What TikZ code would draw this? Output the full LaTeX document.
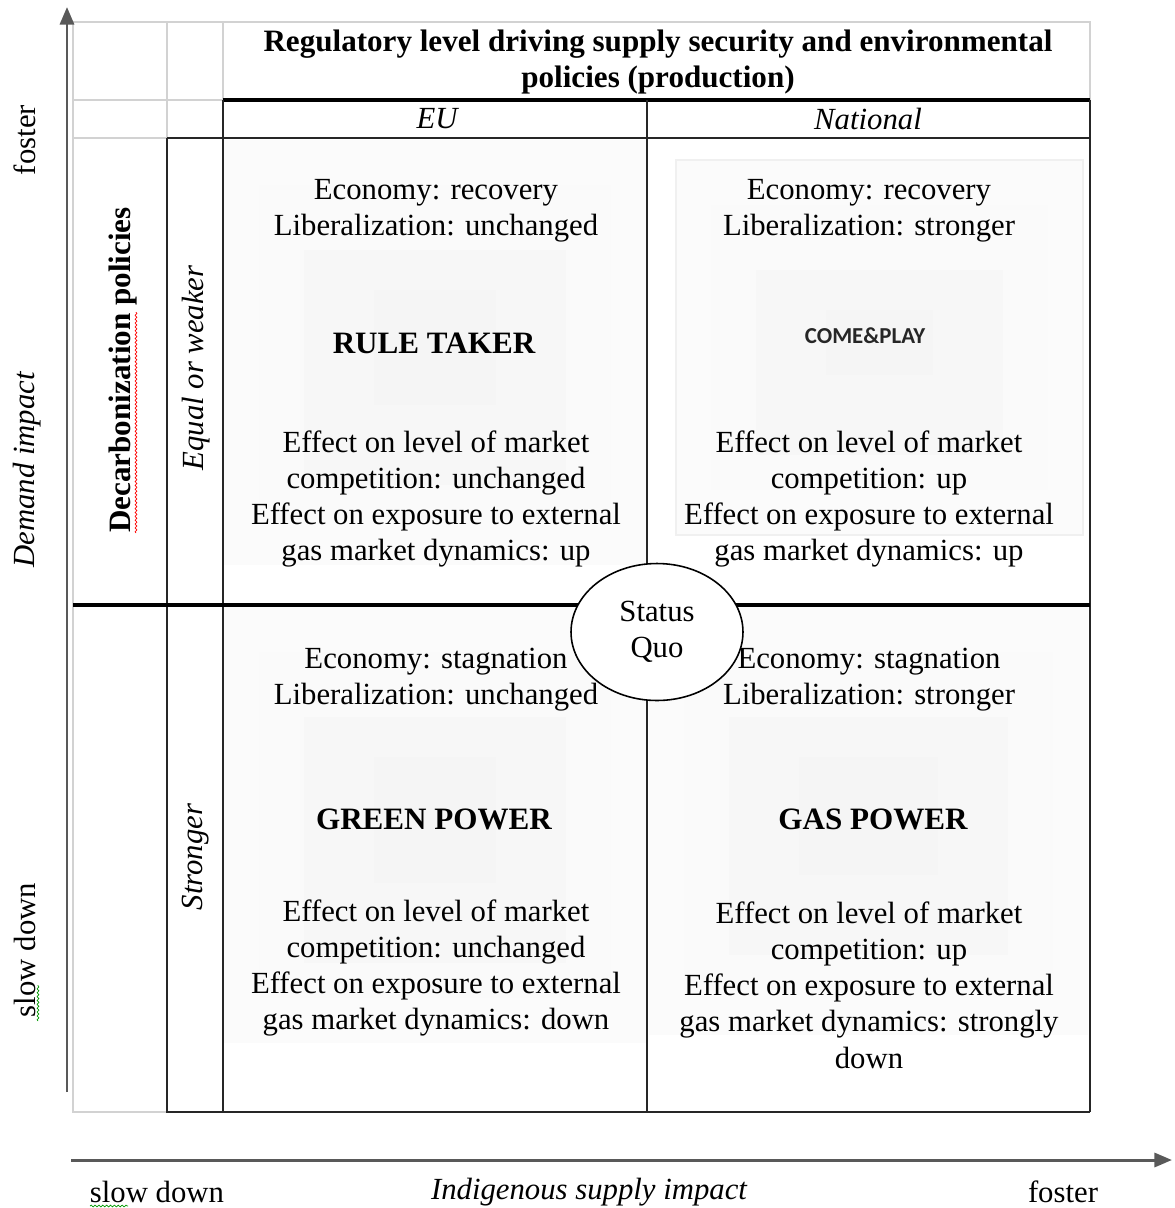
\documentclass[tikz,border=0pt]{standalone}
\usepackage{fontspec}
\setmainfont{Liberation Serif}
\newfontfamily\calibrifont{Carlito}
\usetikzlibrary{arrows.meta,shapes.geometric,decorations.pathmorphing}
\tikzset{cell/.style={align=center,font=\fontsize{17.5}{20.6}\selectfont},
  heading/.style={cell,font=\fontsize{17.7}{20.6}\selectfont\bfseries},
  thinrule/.style={draw=gray!35,line width=0.9pt},
  gridrule/.style={draw=black!85,line width=1.1pt},
  heavyrule/.style={draw=black,line width=1.8pt},
  axis/.style={draw=black!65,line width=1.7pt,-{Triangle[length=10pt,width=8pt]}},
  squiggle/.style={decorate,decoration={snake,amplitude=0.5pt,segment length=2.2pt},line width=0.4pt}}

\begin{document}
\begin{tikzpicture}[x=0.02cm,y=-0.02cm]
\useasboundingbox (0,0) rectangle (1175,1208);

% Soft grey glow behind the four scenarios
\foreach \xa/\ya/\xb/\yb in {224/140/646/565, 676/160/1083/535, 224/607/646/1043, 649/607/1088/1035} {
  \fill[gray!3] (\xa,\ya) rectangle (\xb,\yb);
  \fill[gray!4] (\xa+35,\ya+45) rectangle (\xb-35,\yb-45);
  \fill[gray!6] (\xa+80,\ya+110) rectangle (\xb-80,\yb-80);
  \fill[gray!8] (\xa+150,\ya+150) rectangle (\xb-150,\yb-160);
}
\draw[gray!12,line width=0.6pt] (676,160) rectangle (1083,535);

% Table frame, light part
\draw[thinrule] (73,100) -- (73,22) -- (1090,22) -- (1090,100);
\draw[thinrule] (73,100) -- (73,1112) -- (167,1112);
\draw[thinrule] (73,100) -- (223,100);
\draw[thinrule] (73,138) -- (167,138);
\draw[thinrule] (167,22) -- (167,138);
\draw[thinrule] (223,22) -- (223,100);

% Table grid, black part
\draw[heavyrule] (223,100) -- (1090,100);
\draw[gridrule] (167,138) -- (1090,138);
\draw[gridrule] (223,100) -- (223,1112);
\draw[gridrule] (647,100) -- (647,1112);
\draw[gridrule] (1090,100) -- (1090,1112);
\draw[gridrule] (167,138) -- (167,1112) -- (1090,1112);
\draw[heavyrule] (73,605) -- (1090,605);

% Axes
\coordinate (yfrom) at (67,1092);
\coordinate (yto) at (67,7);
\coordinate (xfrom) at (71,1160);
\coordinate (xto) at (1172,1160);
\draw[axis] (yfrom) -- (yto);
\draw[axis] (xfrom) -- (xto);

% Headings
\node[heading] (regulatory) at (658,62) {Regulatory level driving supply security and environmental\\policies (production)};
\node[cell,font=\fontsize{17.5}{20.6}\selectfont\itshape] (eu) at (437,119) {EU};
\node[cell,font=\fontsize{17.5}{20.6}\selectfont\itshape] (national) at (868,119) {National};
\node[heading,rotate=90] (decarb) at (123,370) {Decarbonization policies};
\node[cell,rotate=90,font=\fontsize{17.5}{20.6}\selectfont\itshape] (weaker) at (196,368) {Equal or weaker};
\node[cell,rotate=90,font=\fontsize{17.5}{20.6}\selectfont\itshape] (stronger) at (196,857) {Stronger};
\draw[red,squiggle] (136,533) -- (136,312);

% Rule taker
\node[cell] (rt-econ) at (436,211) {Economy: recovery\\Liberalization: unchanged};
\node[heading] (rt-name) at (434,343) {RULE TAKER};
\node[cell] (rt-effect) at (436,499) {Effect on level of market\\competition: unchanged\\Effect on exposure to external\\gas market dynamics: up};

% Come and play
\node[cell] (cp-econ) at (869,211) {Economy: recovery\\Liberalization: stronger};
\node[font=\fontsize{13}{15}\selectfont\calibrifont\bfseries,text=black!85] (cp-name) at (865,336) {COME\&PLAY};
\node[cell] (cp-effect) at (869,499) {Effect on level of market\\competition: up\\Effect on exposure to external\\gas market dynamics: up};

% Green power
\node[cell] (gp-econ) at (436,680) {Economy: stagnation\\Liberalization: unchanged};
\node[heading] (gp-name) at (434,819) {GREEN POWER};
\node[cell] (gp-effect) at (436,968) {Effect on level of market\\competition: unchanged\\Effect on exposure to external\\gas market dynamics: down};

% Gas power
\node[cell] (gs-econ) at (869,680) {Economy: stagnation\\Liberalization: stronger};
\node[heading] (gs-name) at (873,819) {GAS POWER};
\node[cell] (gs-effect) at (869,985) {Effect on level of market\\competition: up\\Effect on exposure to external\\gas market dynamics: strongly\\down};

% Status quo in the middle
\node[cell,ellipse,draw,fill=white,line width=0.9pt,minimum width=3.44cm,minimum height=2.74cm,inner sep=0pt] (statusquo) at (657,632) {Status\\Quo};

% Axis labels
\node[cell,rotate=90] (yfoster) at (25,140) {foster};
\node[cell,rotate=90,font=\fontsize{17.5}{20.6}\selectfont\itshape] (ydemand) at (27,470) {Demand impact};
\node[cell,rotate=90] (yslow) at (25,950) {slow down};
\draw[green!60!black,squiggle] (38,1021) -- (38,985);
\node[cell] (xslow) at (157,1192) {slow down};
\draw[green!60!black,squiggle] (90,1206) -- (128,1206);
\node[cell,font=\fontsize{17.5}{20.6}\selectfont\itshape] (xsupply) at (589,1192) {Indigenous supply impact};
\node[cell] (xfoster) at (1063,1192) {foster};
\end{tikzpicture}
\end{document}
